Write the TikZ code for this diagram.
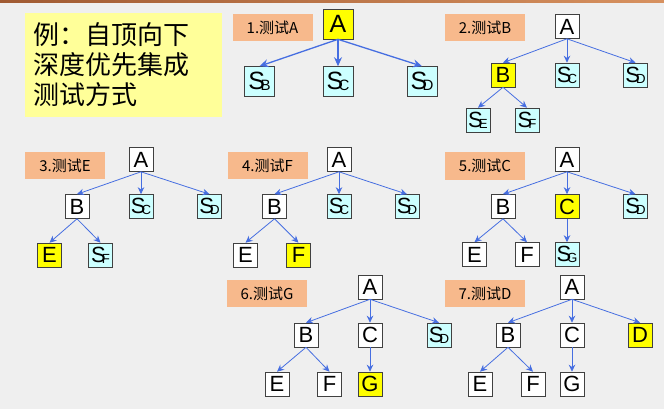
\documentclass[tikz,border=0pt]{standalone}
\usepackage{fontspec}
\setmainfont{Liberation Sans}
\newfontfamily\cjk{Noto Sans CJK SC}
\usetikzlibrary{arrows.meta}

\definecolor{bgGray}{RGB}{239,239,239}
\definecolor{hiYellow}{RGB}{255,255,0}
\definecolor{stubCyan}{RGB}{204,255,255}
\definecolor{tagOrange}{RGB}{247,185,140}
\definecolor{noteYellow}{RGB}{255,255,153}
\definecolor{linkBlue}{RGB}{70,110,225}
\definecolor{barBrown}{RGB}{160,90,50}
\definecolor{barOrange}{RGB}{215,145,95}

\newcommand{\stubS}[1]{S\kern-.18em\raisebox{-.04em}{\scalebox{.6}{#1}}}

\begin{document}
\begin{tikzpicture}[x=1pt, y=-1pt,
	bigBox/.style={rectangle, draw=black!75, line width=0.6pt, fill=white, minimum size=30pt, inner sep=0pt, font=\fontsize{25}{25}\selectfont},
	smallBox/.style={rectangle, draw=black!75, line width=0.6pt, fill=white, minimum size=24pt, inner sep=0pt, font=\fontsize{22}{22}\selectfont},
	stepTag/.style={rectangle, fill=tagOrange, minimum width=80pt, minimum height=27pt, inner sep=0pt, font=\cjk\fontsize{15}{15}\selectfont},
	bigLink/.style={draw=linkBlue, line width=1.3pt, -{Stealth[length=9pt, width=8pt]}},
	treeLink/.style={draw=linkBlue, line width=0.8pt, -{Stealth[length=7pt, width=6.5pt]}}]

		\useasboundingbox (0,0) rectangle (664,409);
		\fill[bgGray] (0,0) rectangle (664,409);
		\shade[left color=barBrown, right color=barOrange] (0,0) rectangle (664,3);

		\node[rectangle, fill=noteYellow, minimum height=104pt, text width=181pt, inner sep=8pt, align=left, font=\cjk\fontsize{26}{30}\selectfont](noteBox) at (123.5,65){例：自顶向下\\深度优先集成\\测试方式};

		% 1. A
		\node[stepTag](tagOne) at (272.5,27.5){1.测试A};
		\node[bigBox, fill=hiYellow](oneA) at (338,24){A};
		\node[bigBox, fill=stubCyan](oneSB) at (259.5,81.5){\stubS{B}};
		\node[bigBox, fill=stubCyan](oneSC) at (338,81.5){\stubS{C}};
		\node[bigBox, fill=stubCyan](oneSD) at (422,81.5){\stubS{D}};

		\draw [bigLink] (oneA.south) -- (oneSB.north);
		\draw [bigLink] (oneA.south) -- (oneSC.north);
		\draw [bigLink] (oneA.south) -- (oneSD.north);

		% 2. B
		\node[stepTag](tagTwo) at (485,27.5){2.测试B};
		\node[smallBox](twoA) at (567,26.5){A};
		\node[smallBox, fill=hiYellow](twoB) at (503,75){B};
		\node[smallBox, fill=stubCyan](twoSC) at (567,75){\stubS{C}};
		\node[smallBox, fill=stubCyan](twoSD) at (635.5,75){\stubS{D}};
		\node[smallBox, fill=stubCyan](twoSE) at (478,120){\stubS{E}};
		\node[smallBox, fill=stubCyan](twoSF) at (527,120){\stubS{F}};

		\draw [treeLink] (twoA.south) -- (twoB.north);
		\draw [treeLink] (twoA.south) -- (twoSC.north);
		\draw [treeLink] (twoA.south) -- (twoSD.north);
		\draw [treeLink] (twoB.south) -- (twoSE.north);
		\draw [treeLink] (twoB.south) -- (twoSF.north);

		% 3. E
		\node[stepTag](tagThree) at (65,165.5){3.测试E};
		\node[smallBox](threeA) at (141,159.5){A};
		\node[smallBox](threeB) at (77,206.5){B};
		\node[smallBox, fill=stubCyan](threeSC) at (141,206.5){\stubS{C}};
		\node[smallBox, fill=stubCyan](threeSD) at (209.5,206.5){\stubS{D}};
		\node[smallBox, fill=hiYellow](threeE) at (49.5,255){E};
		\node[smallBox, fill=stubCyan](threeSF) at (100.5,255){\stubS{F}};

		\draw [treeLink] (threeA.south) -- (threeB.north);
		\draw [treeLink] (threeA.south) -- (threeSC.north);
		\draw [treeLink] (threeA.south) -- (threeSD.north);
		\draw [treeLink] (threeB.south) -- (threeE.north);
		\draw [treeLink] (threeB.south) -- (threeSF.north);

		% 4. F
		\node[stepTag](tagFour) at (267.5,165.5){4.测试F};
		\node[smallBox](fourA) at (339,159.5){A};
		\node[smallBox](fourB) at (274.5,206.5){B};
		\node[smallBox, fill=stubCyan](fourSC) at (339,206.5){\stubS{C}};
		\node[smallBox, fill=stubCyan](fourSD) at (407,206.5){\stubS{D}};
		\node[smallBox](fourE) at (245.5,255){E};
		\node[smallBox, fill=hiYellow](fourF) at (298.5,255){F};

		\draw [treeLink] (fourA.south) -- (fourB.north);
		\draw [treeLink] (fourA.south) -- (fourSC.north);
		\draw [treeLink] (fourA.south) -- (fourSD.north);
		\draw [treeLink] (fourB.south) -- (fourE.north);
		\draw [treeLink] (fourB.south) -- (fourF.north);

		% 5. C
		\node[stepTag](tagFive) at (485,166){5.测试C};
		\node[smallBox](fiveA) at (567,159.5){A};
		\node[smallBox](fiveB) at (503,206.5){B};
		\node[smallBox, fill=hiYellow](fiveC) at (567,206.5){C};
		\node[smallBox, fill=stubCyan](fiveSD) at (635.5,206.5){\stubS{D}};
		\node[smallBox](fiveE) at (474.5,254.5){E};
		\node[smallBox](fiveF) at (527,254.5){F};
		\node[smallBox, fill=stubCyan](fiveSG) at (567,254.5){\stubS{G}};

		\draw [treeLink] (fiveA.south) -- (fiveB.north);
		\draw [treeLink] (fiveA.south) -- (fiveC.north);
		\draw [treeLink] (fiveA.south) -- (fiveSD.north);
		\draw [treeLink] (fiveB.south) -- (fiveE.north);
		\draw [treeLink] (fiveB.south) -- (fiveF.north);
		\draw [treeLink] (fiveC.south) -- (fiveSG.north);

		% 6. G
		\node[stepTag](tagSix) at (267,293.5){6.测试G};
		\node[smallBox](sixA) at (370,287){A};
		\node[smallBox](sixB) at (306,335){B};
		\node[smallBox](sixC) at (370,335){C};
		\node[smallBox, fill=stubCyan](sixSD) at (439,335){\stubS{D}};
		\node[smallBox](sixE) at (277,384){E};
		\node[smallBox](sixF) at (329.5,384){F};
		\node[smallBox, fill=hiYellow](sixG) at (370,384){G};

		\draw [treeLink] (sixA.south) -- (sixB.north);
		\draw [treeLink] (sixA.south) -- (sixC.north);
		\draw [treeLink] (sixA.south) -- (sixSD.north);
		\draw [treeLink] (sixB.south) -- (sixE.north);
		\draw [treeLink] (sixB.south) -- (sixF.north);
		\draw [treeLink] (sixC.south) -- (sixG.north);

		% 7. D
		\node[stepTag](tagSeven) at (485,293.5){7.测试D};
		\node[smallBox](sevenA) at (572,287){A};
		\node[smallBox](sevenB) at (508,335){B};
		\node[smallBox](sevenC) at (572,335){C};
		\node[smallBox, fill=hiYellow](sevenD) at (640,335){D};
		\node[smallBox](sevenE) at (480,384){E};
		\node[smallBox](sevenF) at (533,384){F};
		\node[smallBox](sevenG) at (572,384){G};

		\draw [treeLink] (sevenA.south) -- (sevenB.north);
		\draw [treeLink] (sevenA.south) -- (sevenC.north);
		\draw [treeLink] (sevenA.south) -- (sevenD.north);
		\draw [treeLink] (sevenB.south) -- (sevenE.north);
		\draw [treeLink] (sevenB.south) -- (sevenF.north);
		\draw [treeLink] (sevenC.south) -- (sevenG.north);
	\end{tikzpicture}
\end{document}
